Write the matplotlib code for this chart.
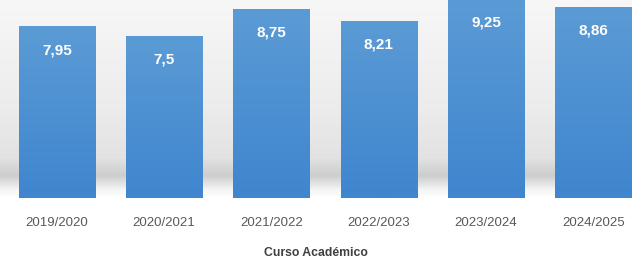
import numpy as np
import matplotlib
matplotlib.use("Agg")
import matplotlib.pyplot as plt
from matplotlib.colors import LinearSegmentedColormap

cursos = ["2019/2020", "2020/2021", "2021/2022", "2022/2023", "2023/2024", "2024/2025"]
notas = [7.95, 7.5, 8.75, 8.21, 9.25, 8.86]
etiquetas = ["7,95", "7,5", "8,75", "8,21", "9,25", "8,86"]

plt.rcParams['font.family'] = ['Liberation Sans', 'DejaVu Sans']

fig = plt.figure(figsize=(6.32, 2.61), dpi=100)
fig.patch.set_facecolor("white")
ax = fig.add_axes([0, 63/261, 1, 198/261])

x = np.arange(len(cursos))
ax.set_xlim(-0.53, 5.36)
ax.set_ylim(0, 9.17)

# soft grey shadow behind the bars (white at floor, darker band, light top)
bg_cmap = LinearSegmentedColormap.from_list(
    "bg", [(0.0, "#ffffff"), (0.04, "#f4f4f4"), (0.11, "#cdcdcd"),
           (0.2, "#e2e2e2"), (0.45, "#ececec"), (1.0, "#f7f7f7")])
bg = np.linspace(0, 1, 300).reshape(-1, 1)
ax.imshow(bg, cmap=bg_cmap, vmin=0, vmax=1, aspect="auto",
          extent=(-0.53, 5.36, 0, 9.17), origin="lower", zorder=0)

bars = ax.bar(x, notas, width=0.71, color="#5b9bd5", zorder=2)

# bar gradient
bar_cmap = LinearSegmentedColormap.from_list("bar", ["#3f86cf", "#5b9bd5"])
grad = np.linspace(0, 1, 100).reshape(-1, 1)
for b in bars:
    im = ax.imshow(grad, cmap=bar_cmap, aspect="auto", origin="lower",
                   extent=(b.get_x(), b.get_x() + b.get_width(), 0, b.get_height()),
                   zorder=3)
    im.set_clip_path(b)

for xi, v, t in zip(x, notas, etiquetas):
    ax.text(xi, v - 1.1, t, ha="center", va="center", color="white",
            fontsize=11, fontweight="bold", zorder=4)

ax.set_xticks(x)
ax.set_xticklabels(cursos, fontsize=9.5, color="#595959")
ax.tick_params(axis="x", length=0, pad=14)
ax.set_yticks([])
for s in ax.spines.values():
    s.set_visible(False)

fig.text(0.5, 8/261, "Curso Académico", ha="center", va="center",
         fontsize=8.8, fontweight="bold", color="#404040")

fig.savefig("out.png", dpi=100)
